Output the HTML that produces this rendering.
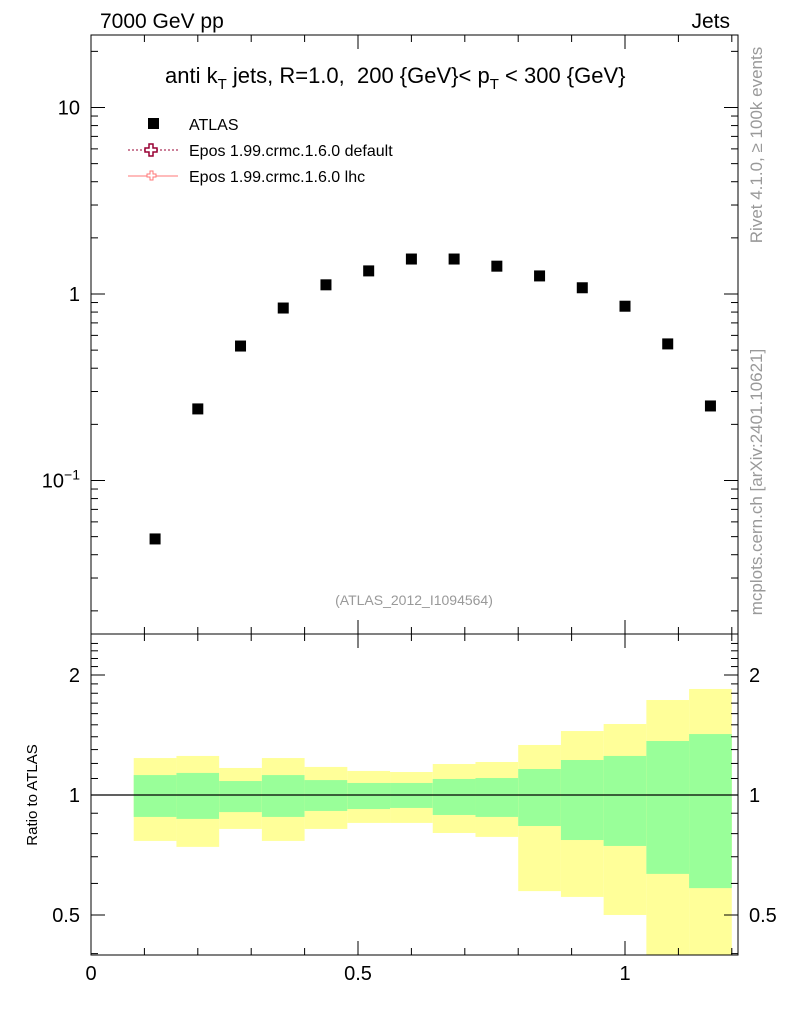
<!DOCTYPE html>
<html><head><meta charset="utf-8"><style>
body{margin:0;background:#fff;}
svg{font-family:"Liberation Sans",sans-serif;}
</style></head><body>
<svg id="c" width="786" height="1024" xmlns="http://www.w3.org/2000/svg"></svg>
<script>
const binEdges=[0.08,0.16,0.24,0.32,0.40,0.48,0.56,0.64,0.72,0.80,0.88,0.96,1.04,1.12,1.20];
const atlasValues=[0.0486,0.242,0.526,0.841,1.12,1.33,1.54,1.54,1.41,1.25,1.08,0.86,0.54,0.251];
const yellowHi=[1.238,1.253,1.169,1.238,1.176,1.149,1.142,1.196,1.210,1.335,1.447,1.507,1.731,1.845];
const yellowLo=[0.767,0.741,0.822,0.767,0.822,0.851,0.851,0.803,0.785,0.574,0.555,0.500,0.35,0.30];
const greenHi=[1.122,1.136,1.084,1.122,1.090,1.072,1.072,1.097,1.103,1.162,1.224,1.253,1.366,1.422];
const greenLo=[0.881,0.871,0.906,0.881,0.912,0.922,0.928,0.891,0.881,0.836,0.771,0.745,0.634,0.584];
const xTicks=[0,0.5,1];
const xTickLabels=["0","0.5","1"];
const ratioTicks=[0.5,1,2];
const ratioTickLabels=["0.5","1","2"];

const NS="http://www.w3.org/2000/svg";
const svg=document.getElementById('c');
function mk(tag,attrs,parent){const e=document.createElementNS(NS,tag);for(const k in attrs)e.setAttribute(k,attrs[k]);(parent||svg).appendChild(e);return e;}
const L=91,R=738,T=35,M=634,B=955;
const xmin=0,xmax=1.2116;
const X=v=>L+(v-xmin)/(xmax-xmin)*(R-L);
const Y=v=>294-Math.log10(v)*186.5;
const YR=v=>795-Math.log10(v)*398.6;

const gb=mk('g',{'clip-path':'url(#rc)'});


const cp=mk('clipPath',{id:'rc'});mk('rect',{x:L,y:M,width:R-L,height:B-M},cp);
for(let i=0;i<atlasValues.length;i++){
  const x0=X(binEdges[i]),x1=X(binEdges[i+1]);
  const y1=mk('rect',{x:x0,y:YR(yellowHi[i]),width:x1-x0,height:YR(yellowLo[i])-YR(yellowHi[i]),fill:'#ffff99'},gb);
  
  
  const g1=mk('rect',{x:x0,y:YR(greenHi[i]),width:x1-x0,height:YR(greenLo[i])-YR(greenHi[i]),fill:'#99ff99'},gb);
  
  
}
const ref=mk('line',{x1:L,x2:R,y1:YR(1),y2:YR(1),stroke:'#000','stroke-width':1.2});



const f1=mk('rect',{x:L,y:T,width:R-L,height:M-T,fill:'none',stroke:'#000','stroke-width':1});

const f2=mk('rect',{x:L,y:M,width:R-L,height:B-M,fill:'none',stroke:'#000','stroke-width':1});


for(let v=0;v<=1.2001;v+=0.1){
  const x=X(v);const major=Math.abs(v*2-Math.round(v*2))<1e-6;const len=major?14:7;
  [[M,-1],[T,1],[B,-1],[M,1]].forEach(([y,d])=>mk('line',{x1:x,x2:x,y1:y,y2:y+d*len,stroke:'#000'}));
}
xTicks.forEach((v,i)=>{const t=mk('text',{x:X(v),y:980,'font-size':20,'text-anchor':'middle'});t.textContent=xTickLabels[i];
});

for(let d=-2;d<=1;d++){for(let m=1;m<10;m++){const v=m*Math.pow(10,d);const y=Y(v);if(y<T||y>M)continue;
  const len=m==1?14:7;mk('line',{x1:L,x2:L+len,y1:y,y2:y,stroke:'#000'});mk('line',{x1:R,x2:R-len,y1:y,y2:y,stroke:'#000'});}}
[[10,'10'],[1,'1']].forEach(([v,s])=>{const t=mk('text',{x:80,y:Y(v)+7,'font-size':20,'text-anchor':'end'});t.textContent=s;
});
const t01=mk('text',{x:80,y:Y(0.1)+7,'font-size':20,'text-anchor':'end'});t01.innerHTML='10<tspan dy="-8" font-size="14">−1</tspan>';


for(let v=0.4;v<=2.5;v+=0.1){const y=YR(v);if(y<M||y>B)continue;const major=ratioTicks.some(r=>Math.abs(r-v)<1e-6);const len=major?14:7;
  mk('line',{x1:L,x2:L+len,y1:y,y2:y,stroke:'#000'});mk('line',{x1:R,x2:R-len,y1:y,y2:y,stroke:'#000'});}
ratioTicks.forEach((v,i)=>{
  const a=mk('text',{x:80,y:YR(v)+7,'font-size':20,'text-anchor':'end'});a.textContent=ratioTickLabels[i];
  
  const b=mk('text',{x:749,y:YR(v)+7,'font-size':20});b.textContent=ratioTickLabels[i];
  
});

for(let i=0;i<atlasValues.length;i++){
  const cx=X((binEdges[i]+binEdges[i+1])/2),cy=Y(atlasValues[i]);
  const p=mk('rect',{x:cx-5.5,y:cy-5.5,width:11,height:11,fill:'#000'});
  
  
}

function txt(s,attrs,name){const t=mk('text',attrs);t.innerHTML=s;return t;}
txt('7000 GeV pp',{x:100,y:28,'font-size':21},'energy-label');
txt('Jets',{x:730,y:28,'font-size':21,'text-anchor':'end'},'process-label');
const title=txt('anti k<tspan dy="6" font-size="15">T</tspan><tspan dy="-6"> jets, R=1.0,  200 {GeV}&lt; p</tspan><tspan dy="6" font-size="15">T</tspan><tspan dy="-6"> &lt; 300 {GeV}</tspan>',{x:165,y:83,'font-size':22},'plot-title');
title.setAttribute('style','white-space:pre');
const lg=mk('g',{});
mk('rect',{x:148,y:118,width:11,height:11,fill:'#000'},lg);
txt('ATLAS',{x:189,y:130,'font-size':16},'legend-atlas');
mk('line',{x1:128,x2:178,y1:150,y2:150,stroke:'#990033','stroke-dasharray':'2,2'},lg);
mk('path',{d:'M149 144h4v4h4v4h-4v4h-4v-4h-4v-4h4z',fill:'#fff',stroke:'#990033','stroke-width':1.5},lg);
txt('Epos 1.99.crmc.1.6.0 default',{x:189,y:156,'font-size':16},'legend-epos-default');
mk('line',{x1:128,x2:178,y1:176,y2:176,stroke:'#ff7777'},lg);
mk('path',{d:'M150 171h3v3h3v3h-3v3h-3v-3h-3v-3h3z',fill:'#fff',stroke:'#ff7777','stroke-width':1},lg);
txt('Epos 1.99.crmc.1.6.0 lhc',{x:189,y:182,'font-size':16},'legend-epos-lhc');
txt('(ATLAS_2012_I1094564)',{x:414,y:605,'font-size':14,fill:'#999','text-anchor':'middle'},'analysis-id');
txt('Ratio to ATLAS',{x:37,y:795,'font-size':15,'text-anchor':'middle',transform:'rotate(-90 37 795)'},'ratio-y-title');
txt('Rivet 4.1.0, ≥ 100k events',{x:762,y:145,'font-size':17,fill:'#999','text-anchor':'middle',transform:'rotate(-90 762 145)'},'rivet-label');
txt('mcplots.cern.ch [arXiv:2401.10621]',{x:762,y:482,'font-size':17,fill:'#999','text-anchor':'middle',transform:'rotate(-90 762 482)'},'mcplots-label');
</script>
</body></html>
